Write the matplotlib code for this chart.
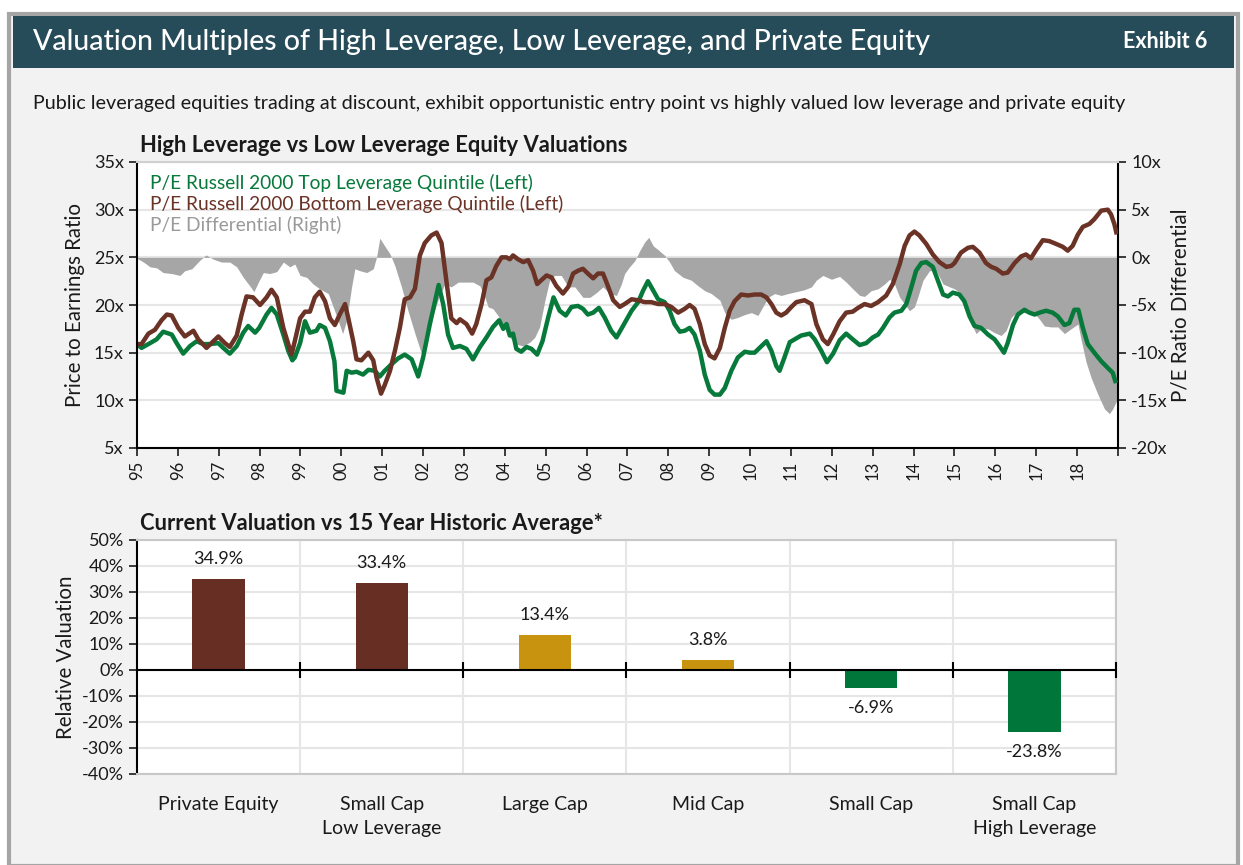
import matplotlib
matplotlib.use("Agg")
import matplotlib.pyplot as plt
import numpy as np
from matplotlib.patches import Rectangle
from matplotlib.ticker import FuncFormatter, MultipleLocator
from matplotlib.transforms import ScaledTranslation

# ------------------------------------------------------------- data (top)
green_years = [1995.00, 1995.11, 1995.32, 1995.48, 1995.64, 1995.85, 1995.97, 1996.13, 1996.30,
               1996.46, 1996.62, 1996.79, 1996.99, 1997.11, 1997.27, 1997.44, 1997.60, 1997.72,
               1997.89, 1997.99, 1998.17, 1998.29, 1998.42, 1998.58, 1998.70, 1998.80, 1998.86,
               1998.99, 1999.11, 1999.23, 1999.39, 1999.47, 1999.60, 1999.72, 1999.83, 1999.88,
               2000.05, 2000.13, 2000.25, 2000.37, 2000.53, 2000.66, 2000.82, 2000.94, 2001.06,
               2001.23, 2001.39, 2001.55, 2001.72, 2001.88, 2002.00, 2002.16, 2002.29, 2002.38,
               2002.49, 2002.61, 2002.73, 2002.90, 2003.06, 2003.22, 2003.39, 2003.55, 2003.71,
               2003.86, 2003.96, 2004.04, 2004.12, 2004.20, 2004.28, 2004.40, 2004.53, 2004.65,
               2004.79, 2004.92, 2005.06, 2005.19, 2005.34, 2005.49, 2005.63, 2005.79, 2005.91,
               2006.03, 2006.16, 2006.30, 2006.44, 2006.60, 2006.73, 2006.85, 2007.10, 2007.26,
               2007.38, 2007.50, 2007.63, 2007.75, 2007.91, 2008.03, 2008.15, 2008.28, 2008.40,
               2008.52, 2008.64, 2008.77, 2008.89, 2009.01, 2009.13, 2009.26, 2009.38, 2009.54,
               2009.70, 2009.87, 2009.99, 2010.11, 2010.23, 2010.40, 2010.52, 2010.64, 2010.72,
               2010.84, 2010.97, 2011.09, 2011.25, 2011.46, 2011.58, 2011.74, 2011.88, 2012.03,
               2012.19, 2012.35, 2012.51, 2012.68, 2012.84, 2013.00, 2013.13, 2013.25, 2013.41,
               2013.53, 2013.70, 2013.82, 2013.94, 2014.06, 2014.19, 2014.31, 2014.47, 2014.59,
               2014.72, 2014.84, 2014.96, 2015.12, 2015.24, 2015.37, 2015.49, 2015.65, 2015.82,
               2015.98, 2016.10, 2016.21, 2016.30, 2016.43, 2016.55, 2016.71, 2016.83, 2016.96,
               2017.08, 2017.24, 2017.40, 2017.53, 2017.69, 2017.81, 2017.93, 2018.03, 2018.14,
               2018.26, 2018.42, 2018.59, 2018.75, 2018.87, 2018.95]
green_pe = [15.9, 15.5, 16.0, 16.4, 17.2, 16.9, 16.0, 14.9, 15.7,
            16.2, 15.9, 15.9, 16.0, 15.5, 14.9, 15.7, 17.1, 17.8,
            17.1, 17.6, 19.0, 19.7, 19.0, 16.9, 15.2, 14.2, 14.5,
            16.0, 18.3, 17.1, 17.3, 17.9, 17.6, 16.2, 14.1, 11.0,
            10.8, 13.1, 12.9, 13.0, 12.7, 13.2, 13.1, 12.5, 13.1,
            13.8, 14.4, 14.8, 14.3, 12.5, 14.5, 17.9, 20.4, 22.1,
            20.1, 16.9, 15.5, 15.7, 15.4, 14.3, 15.6, 16.6, 17.7,
            18.4, 17.5, 18.0, 16.8, 17.0, 15.4, 15.1, 15.6, 15.4,
            14.8, 16.2, 18.7, 20.8, 19.4, 18.9, 19.8, 19.9, 19.6,
            19.0, 19.2, 19.7, 18.7, 17.3, 16.6, 17.5, 19.4, 20.3,
            21.5, 22.5, 21.5, 20.6, 20.3, 19.4, 18.0, 17.2, 17.3,
            17.6, 16.9, 15.2, 12.7, 11.1, 10.6, 10.6, 11.3, 13.1,
            14.5, 15.1, 15.0, 15.0, 15.5, 16.2, 15.2, 13.6, 13.1,
            14.5, 16.1, 16.4, 16.8, 17.0, 16.4, 15.2, 14.0, 14.9,
            16.3, 17.0, 16.4, 15.8, 16.0, 16.6, 16.9, 17.6, 18.7,
            19.2, 19.4, 20.1, 21.8, 23.6, 24.4, 24.5, 24.0, 22.6,
            21.1, 20.9, 21.3, 21.1, 20.4, 18.8, 17.8, 17.6, 16.9,
            16.4, 15.7, 15.0, 16.0, 17.9, 19.0, 19.5, 19.2, 19.0,
            19.2, 19.4, 19.2, 18.8, 17.9, 18.1, 19.5, 19.5, 17.6,
            15.9, 15.0, 14.1, 13.4, 12.9, 11.8]

brown_years = [1995.00, 1995.11, 1995.28, 1995.44, 1995.60, 1995.73, 1995.85, 1996.01, 1996.17,
               1996.38, 1996.50, 1996.70, 1996.99, 1997.15, 1997.27, 1997.44, 1997.56, 1997.68,
               1997.84, 1998.01, 1998.17, 1998.29, 1998.42, 1998.58, 1998.78, 1998.86, 1998.99,
               1999.11, 1999.23, 1999.35, 1999.47, 1999.60, 1999.72, 1999.84, 1999.96, 2000.09,
               2000.17, 2000.29, 2000.37, 2000.49, 2000.66, 2000.78, 2000.86, 2000.97, 2001.06,
               2001.19, 2001.31, 2001.43, 2001.55, 2001.68, 2001.80, 2001.92, 2002.04, 2002.20,
               2002.33, 2002.45, 2002.57, 2002.69, 2002.82, 2002.90, 2003.06, 2003.20, 2003.30,
               2003.43, 2003.55, 2003.67, 2003.79, 2003.92, 2004.04, 2004.12, 2004.20, 2004.32,
               2004.45, 2004.57, 2004.69, 2004.79, 2004.89, 2005.02, 2005.14, 2005.26, 2005.42,
               2005.55, 2005.67, 2005.79, 2005.91, 2006.03, 2006.16, 2006.28, 2006.40, 2006.52,
               2006.65, 2006.81, 2006.93, 2007.10, 2007.26, 2007.42, 2007.58, 2007.75, 2007.91,
               2008.07, 2008.24, 2008.40, 2008.52, 2008.64, 2008.77, 2008.89, 2009.01, 2009.13,
               2009.26, 2009.38, 2009.50, 2009.62, 2009.78, 2009.95, 2010.11, 2010.27, 2010.40,
               2010.52, 2010.64, 2010.76, 2010.88, 2011.01, 2011.13, 2011.33, 2011.50, 2011.62,
               2011.78, 2011.90, 2012.03, 2012.19, 2012.35, 2012.51, 2012.64, 2012.80, 2012.96,
               2013.13, 2013.33, 2013.49, 2013.66, 2013.78, 2013.90, 2014.02, 2014.14, 2014.31,
               2014.47, 2014.63, 2014.80, 2014.92, 2015.00, 2015.16, 2015.33, 2015.45, 2015.61,
               2015.77, 2015.90, 2016.02, 2016.18, 2016.30, 2016.47, 2016.63, 2016.75, 2016.87,
               2017.00, 2017.16, 2017.32, 2017.49, 2017.65, 2017.77, 2017.89, 2018.02, 2018.14,
               2018.30, 2018.42, 2018.59, 2018.75, 2018.83, 2018.91, 2018.97]
brown_pe = [15.9, 15.9, 17.0, 17.4, 18.4, 19.0, 18.9, 17.6, 16.7,
            17.3, 16.4, 15.5, 16.7, 16.0, 15.6, 16.8, 19.0, 20.9,
            20.8, 20.0, 20.8, 21.6, 20.8, 17.6, 14.8, 16.2, 18.6,
            19.3, 19.3, 20.8, 21.4, 20.4, 18.6, 17.9, 19.0, 20.1,
            18.6, 16.2, 14.3, 14.2, 15.0, 14.2, 12.4, 10.7, 11.6,
            13.1, 15.2, 17.6, 20.6, 20.8, 21.7, 25.2, 26.5, 27.3,
            27.6, 26.5, 22.5, 18.6, 18.1, 18.5, 18.0, 17.0, 18.0,
            20.1, 22.6, 22.9, 24.1, 25.0, 25.0, 24.8, 25.2, 24.8,
            24.5, 24.7, 23.6, 22.2, 22.6, 23.1, 22.9, 22.0, 21.2,
            21.9, 23.3, 23.6, 23.8, 23.3, 22.8, 23.3, 23.3, 22.0,
            20.5, 19.8, 20.1, 20.6, 20.5, 20.3, 20.3, 20.1, 20.1,
            19.8, 19.2, 19.6, 20.0, 19.6, 18.0, 15.9, 14.7, 14.4,
            15.5, 17.6, 19.4, 20.4, 21.1, 21.0, 21.1, 21.1, 20.8,
            20.1, 19.2, 18.9, 19.2, 19.8, 20.3, 20.5, 20.1, 18.0,
            16.4, 15.9, 16.9, 18.3, 19.2, 19.3, 19.7, 20.1, 19.9,
            20.3, 21.0, 22.2, 24.3, 26.2, 27.3, 27.7, 27.3, 26.4,
            25.3, 24.5, 24.0, 24.1, 24.4, 25.5, 26.0, 26.1, 25.5,
            24.4, 24.0, 23.8, 23.3, 23.4, 24.4, 25.1, 25.3, 24.9,
            25.8, 26.8, 26.7, 26.4, 26.1, 25.7, 26.2, 27.4, 28.2,
            28.5, 29.0, 29.9, 30.0, 29.5, 28.5, 27.4]

diff_years = [1995.00, 1995.16, 1995.32, 1995.48, 1995.64, 1995.85, 1996.05, 1996.17, 1996.34,
              1996.54, 1996.69, 1996.87, 1997.07, 1997.27, 1997.44, 1997.60, 1997.76, 1997.86,
              1997.97, 1998.09, 1998.25, 1998.42, 1998.58, 1998.74, 1998.86, 1998.99, 1999.15,
              1999.31, 1999.47, 1999.68, 1999.80, 1999.92, 2000.03, 2000.13, 2000.25, 2000.33,
              2000.45, 2000.62, 2000.78, 2000.86, 2000.94, 2001.06, 2001.19, 2001.31, 2001.47,
              2001.63, 2001.80, 2001.96, 2002.08, 2002.20, 2002.37, 2002.53, 2002.69, 2002.86,
              2003.06, 2003.22, 2003.39, 2003.51, 2003.59, 2003.71, 2003.83, 2003.96, 2004.12,
              2004.28, 2004.45, 2004.61, 2004.73, 2004.85, 2004.98, 2005.10, 2005.22, 2005.38,
              2005.55, 2005.71, 2005.91, 2006.08, 2006.24, 2006.40, 2006.56, 2006.73, 2006.85,
              2006.93, 2007.05, 2007.18, 2007.30, 2007.42, 2007.52, 2007.63, 2007.75, 2007.91,
              2008.03, 2008.15, 2008.36, 2008.56, 2008.73, 2008.89, 2009.05, 2009.26, 2009.38,
              2009.54, 2009.70, 2009.87, 2010.03, 2010.19, 2010.31, 2010.44, 2010.60, 2010.76,
              2010.93, 2011.13, 2011.33, 2011.50, 2011.62, 2011.78, 2011.99, 2012.19, 2012.35,
              2012.51, 2012.68, 2012.80, 2012.96, 2013.13, 2013.29, 2013.41, 2013.53, 2013.66,
              2013.78, 2013.90, 2014.02, 2014.10, 2014.23, 2014.39, 2014.55, 2014.72, 2014.88,
              2015.00, 2015.16, 2015.29, 2015.41, 2015.53, 2015.65, 2015.82, 2015.98, 2016.14,
              2016.26, 2016.39, 2016.51, 2016.63, 2016.79, 2016.96, 2017.08, 2017.20, 2017.36,
              2017.53, 2017.69, 2017.85, 2018.02, 2018.10, 2018.22, 2018.34, 2018.50, 2018.67,
              2018.79, 2018.87, 2018.97]
diff_pe = [-0.1, -0.5, -1.0, -1.1, -1.6, -1.7, -1.9, -1.4, -1.2,
           -0.3, 0.25, -0.2, -0.5, -0.5, -1.0, -2.1, -3.0, -3.6,
           -2.6, -1.6, -1.7, -1.5, -0.5, -1.0, -0.7, -1.9, -2.1,
           -2.8, -3.3, -3.8, -5.2, -6.6, -8.0, -6.6, -3.1, -1.2,
           -1.4, -1.6, -1.2, 0.0, 2.0, 1.2, 0.35, -0.9, -3.1,
           -5.6, -8.0, -10.1, -8.9, -6.6, -4.4, -2.8, -3.1, -2.6,
           -2.6, -2.6, -3.0, -4.2, -5.2, -5.4, -6.1, -7.2, -8.4,
           -9.1, -9.3, -8.9, -8.4, -7.3, -4.5, -2.3, -1.9, -1.9,
           -3.1, -3.1, -4.2, -4.2, -3.7, -3.1, -3.8, -4.0, -2.8,
           -1.7, -1.0, -0.35, 0.7, 1.6, 2.1, 1.2, 0.8, 0.2,
           -0.5, -1.4, -2.1, -2.4, -3.0, -3.5, -3.8, -4.5, -5.8,
           -6.5, -6.3, -6.0, -5.8, -6.1, -5.2, -4.2, -3.8, -4.0,
           -3.8, -3.6, -3.4, -3.1, -2.4, -1.9, -2.3, -2.0, -2.6,
           -3.3, -4.0, -4.1, -3.5, -3.3, -2.8, -2.3, -2.8, -4.2,
           -4.9, -5.6, -5.2, -4.2, -2.4, -1.4, -1.4, -2.8, -3.1,
           -3.3, -3.8, -5.2, -7.0, -8.0, -7.5, -7.5, -7.9, -8.2,
           -7.7, -6.3, -5.8, -5.8, -5.8, -5.9, -6.5, -7.2, -7.3,
           -7.3, -8.0, -7.5, -7.0, -8.7, -11.0, -12.6, -14.3, -15.9,
           -16.4, -15.9, -15.0]

# ---------------------------------------------------------- data (bottom)
categories = ["Private Equity", "Small Cap\nLow Leverage", "Large Cap",
              "Mid Cap", "Small Cap", "Small Cap\nHigh Leverage"]
rel_valuation = [34.9, 33.4, 13.4, 3.8, -6.9, -23.8]
bar_colors = ["#672E24", "#672E24", "#C8930F", "#C8930F", "#00763A", "#00763A"]

GREEN = "#07793B"
BROWN = "#6B3226"
GRAY = "#A6A6A6"
GRID = "#E6E6E6"
TXT = "#1A1A1A"

W, H = 1243, 865


def fx(x):
    return x / W


def fy(y):
    return 1 - y / H


def box(x0, y0, x1, y1):
    return [fx(x0), fy(y1), fx(x1) - fx(x0), fy(y0) - fy(y1)]


plt.rcParams["font.family"] = ["Lato", "DejaVu Sans"]
plt.rcParams["text.color"] = TXT
plt.rcParams["axes.labelcolor"] = TXT
plt.rcParams["xtick.color"] = TXT
plt.rcParams["ytick.color"] = TXT

fig = plt.figure(figsize=(W / 100, H / 100), dpi=100, facecolor="white")

# -------------------------------------------------------- frame & header
fig.patches.append(Rectangle((fx(9), fy(866)), fx(1238) - fx(9), fy(14) - fy(866),
                             transform=fig.transFigure, facecolor="#F2F2F2",
                             edgecolor="#A5A5A5", lw=3, zorder=-5))
fig.patches.append(Rectangle((fx(13), fy(68)), fx(1234) - fx(13), fy(16) - fy(68),
                             transform=fig.transFigure, facecolor="#264C5A",
                             edgecolor="none", zorder=-4))
fig.text(fx(33), fy(42), "Valuation Multiples of High Leverage, Low Leverage, and Private Equity",
         color="white", fontsize=20.5, fontweight="medium", va="center")
fig.text(fx(1207), fy(42), "Exhibit 6", color="white", fontsize=15.5, fontweight="bold",
         ha="right", va="center")
fig.text(fx(33), fy(103), "Public leveraged equities trading at discount, exhibit opportunistic "
         "entry point vs highly valued low leverage and private equity",
         fontsize=14.2, va="center")

# ------------------------------------------------------------ top chart
ax = fig.add_axes(box(137, 162, 1118, 448))
ax2 = ax.twinx()
ax.set_zorder(ax2.get_zorder() + 1)
ax.patch.set_visible(False)
ax2.patch.set_visible(True)
ax2.patch.set_facecolor("white")

ax2.fill_between(diff_years, diff_pe, 0, color=GRAY, lw=0, zorder=2)
ax.plot(green_years, green_pe, color=GREEN, lw=3.2, solid_capstyle="butt")
ax.plot(brown_years, brown_pe, color=BROWN, lw=3.2, solid_capstyle="butt")

ax.set_xlim(1995, 2019)
ax.set_ylim(5, 35)
ax2.set_ylim(-20, 10)
ax.yaxis.set_major_locator(MultipleLocator(5))
ax2.yaxis.set_major_locator(MultipleLocator(5))
ax.yaxis.set_major_formatter(FuncFormatter(lambda v, _: f"{v:.0f}x"))
ax2.yaxis.set_major_formatter(FuncFormatter(lambda v, _: f"{v:.0f}x"))

years = np.arange(1995, 2020)
ax.set_xticks(years)
ax.set_xticklabels([f"{y % 100:02d}" if y < 2019 else "" for y in years], rotation=90)
shift = ScaledTranslation(5 / 100, 0, fig.dpi_scale_trans)
for lab in ax.get_xticklabels():
    lab.set_transform(lab.get_transform() + shift)
ax2.grid(True, color=GRID, lw=1.5, zorder=0)
ax2.set_axisbelow(True)

for a in (ax, ax2):
    a.tick_params(direction="out", length=6, width=1.2, labelsize=13)
    a.spines["top"].set_color("#D0D0D0")
    a.spines["top"].set_linewidth(1.5)
ax.tick_params(axis="x", labelsize=12)
ax.spines["right"].set_visible(False)
ax2.spines["left"].set_visible(False)
ax.spines["left"].set_linewidth(1.5)
ax.spines["bottom"].set_linewidth(1.5)
ax2.spines["right"].set_linewidth(1.5)
ax2.spines["bottom"].set_visible(False)

ax.set_ylabel("Price to Earnings Ratio", fontsize=14.8, labelpad=6)
ax2.set_ylabel("P/E Ratio Differential", fontsize=14.8, labelpad=2)

fig.text(fx(140), fy(146), "High Leverage vs Low Leverage Equity Valuations",
         fontsize=15.8, fontweight="bold", va="center")
fig.text(fx(150), fy(183), "P/E Russell 2000 Top Leverage Quintile (Left)", color=GREEN,
         fontsize=13.8, va="center")
fig.text(fx(150), fy(204), "P/E Russell 2000 Bottom Leverage Quintile (Left)", color=BROWN,
         fontsize=13.8, va="center")
fig.text(fx(150), fy(225), "P/E Differential (Right)", color="#9A9A9A",
         fontsize=13.8, va="center")

# --------------------------------------------------------- bottom chart
bx = fig.add_axes(box(137, 540, 1116, 774))
bx.set_facecolor("white")
pos = np.arange(len(categories))
bx.bar(pos, rel_valuation, width=0.32, color=bar_colors, zorder=3)
bx.set_xlim(-0.5, len(categories) - 0.5)
bx.set_ylim(-40, 50)
bx.yaxis.set_major_locator(MultipleLocator(10))
bx.yaxis.set_major_formatter(FuncFormatter(lambda v, _: f"{v:.0f}%"))
bx.set_xticks(pos)
bx.set_xticklabels(categories, fontsize=14, linespacing=1.45)
bx.tick_params(axis="x", length=0, pad=16)
bx.tick_params(axis="y", direction="out", length=6, width=1.2, labelsize=13)
bounds = np.arange(0.5, len(categories), 1.0)
bx.set_xticks(bounds, minor=True)
bx.tick_params(axis="x", which="minor", length=0)
bx.grid(True, which="minor", axis="x", color=GRID, lw=1.5, zorder=0)
bx.grid(True, which="major", axis="y", color=GRID, lw=1.5, zorder=0)
bx.axhline(0, color="black", lw=1.5, zorder=4)
bx.plot(bounds, np.zeros_like(bounds), ls="none", marker="|", ms=11, mew=1.5,
        color="black", zorder=5, clip_on=False)
for s in ("top", "right", "bottom"):
    bx.spines[s].set_color("#C8C8C8")
    bx.spines[s].set_linewidth(1.5)
bx.spines["left"].set_linewidth(1.5)
bx.set_ylabel("Relative Valuation", fontsize=14.8, labelpad=4)

for p, v in zip(pos, rel_valuation):
    if v >= 0:
        bx.annotate(f"{v:.1f}%", (p, v), xytext=(0, 9), textcoords="offset points",
                    ha="center", va="bottom", fontsize=13)
    else:
        bx.annotate(f"{v:.1f}%", (p, v), xytext=(0, -9), textcoords="offset points",
                    ha="center", va="top", fontsize=13)

fig.text(fx(140), fy(523), "Current Valuation vs 15 Year Historic Average*",
         fontsize=15.8, fontweight="bold", va="center")

fig.savefig("out.png", dpi=100, facecolor=fig.get_facecolor())
